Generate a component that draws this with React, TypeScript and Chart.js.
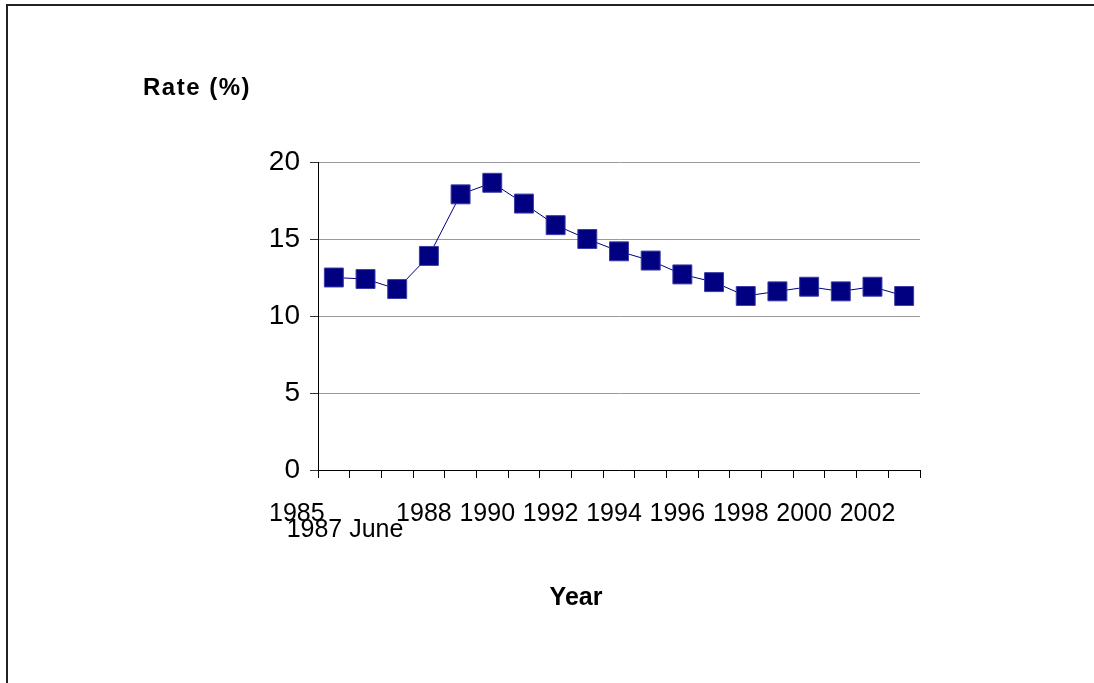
import React, { useEffect, useRef } from "react";
import { Chart, registerables } from "chart.js";

Chart.register(...registerables);

// Categories as labelled on the axis ("" = category without a visible label)
const xLabels: string[] = [
  "1985", "1987 June", "", "1988", "", "1990", "", "1992", "", "1994",
  "", "1996", "", "1998", "", "2000", "", "2002", "",
];
const rateValues: number[] = [
  12.5, 12.4, 11.75, 13.9, 17.9, 18.65, 17.3, 15.9, 15.0, 14.2,
  13.6, 12.7, 12.2, 11.3, 11.6, 11.9, 11.6, 11.9, 11.3,
];
const yTicks: number[] = [0, 5, 10, 15, 20];
const yTitle = "Rate (%)";
const xTitle = "Year";

const FONT = '"Liberation Sans", Arial, sans-serif';

const decorPlugin = {
  id: "decor",
  beforeDraw(chart: any) {
    const ctx = chart.ctx;
    ctx.save();
    ctx.fillStyle = "#ffffff";
    ctx.fillRect(0, 0, chart.width, chart.height);
    ctx.fillStyle = "#222222";
    ctx.fillRect(6, 4, chart.width, 2);
    ctx.fillRect(6, 4, 2, chart.height);
    ctx.restore();
  },
  afterDraw(chart: any) {
    const ctx = chart.ctx;
    const xs = chart.scales.x;
    const bottom = chart.chartArea.bottom;
    ctx.save();
    ctx.fillStyle = "#000000";
    ctx.textBaseline = "alphabetic";
    // x tick labels
    ctx.font = `25px ${FONT}`;
    ctx.textAlign = "center";
    xLabels.forEach((lab, i) => {
      if (!lab) return;
      let dx = -5;
      let dy = 51;
      if (i === 0) dx = -37;
      if (i === 1) {
        dx = -20.5;
        dy = 67;
      }
      ctx.fillText(lab, xs.getPixelForValue(i) + dx, bottom + dy);
    });
    // axis titles
    ctx.font = `bold 25px ${FONT}`;
    ctx.fillText(xTitle, 576, 605);
    ctx.font = `bold 24px ${FONT}`;
    try {
      (ctx as any).letterSpacing = "1.5px";
    } catch (e) {}
    ctx.textAlign = "left";
    ctx.fillText(yTitle, 143, 95);
    ctx.restore();
  },
};

export default function App() {
  const ref = useRef<HTMLCanvasElement | null>(null);
  useEffect(() => {
    if (!ref.current) return;
    const chart = new Chart(ref.current, {
      type: "line",
      data: {
        labels: xLabels.map((l, i) => l || `c${i}`),
        datasets: [
          {
            data: rateValues,
            borderColor: "#000080",
            borderWidth: 1,
            backgroundColor: "#000080",
            pointStyle: "rect",
            pointRadius: 13.4,
            pointHoverRadius: 13.4,
            pointBackgroundColor: "#000080",
            pointBorderColor: "#3c3ca8",
            pointBorderWidth: 1,
            tension: 0,
            clip: false as any,
          },
        ],
      },
      options: {
        responsive: false,
        animation: false,
        events: [],
        layout: { padding: { left: 0, top: 162, right: 174, bottom: 0 } },
        plugins: {
          legend: { display: false },
          tooltip: { enabled: false },
          title: { display: false },
        },
        scales: {
          x: {
            type: "category",
            offset: true,
            afterFit: (s: any) => {
              s.height = 213;
            },
            grid: {
              display: true,
              drawOnChartArea: false,
              drawTicks: true,
              tickLength: 8,
              offset: true,
              color: "#000000",
            },
            border: { display: true, color: "#000000", width: 1 },
            ticks: { display: false, autoSkip: false },
          },
          y: {
            min: 0,
            max: 20,
            afterFit: (s: any) => {
              s.width = 318;
            },
            afterBuildTicks: (s: any) => {
              s.ticks = yTicks.map((v) => ({ value: v }));
            },
            grid: {
              color: "#9a9a9a",
              lineWidth: 1,
              tickColor: "#333333",
              tickLength: 8,
              drawTicks: true,
            },
            border: { display: true, color: "#000000", width: 1 },
            ticks: {
              color: "#000000",
              padding: 10,
              font: { family: FONT, size: 28 },
            },
          },
        },
      },
      plugins: [decorPlugin],
    });
    return () => chart.destroy();
  }, []);
  return (
    <div style={{ position: "fixed", left: 0, top: 0, width: 1094, height: 683, background: "#fff" }}>
      <canvas ref={ref} width={1094} height={683} style={{ display: "block" }} />
    </div>
  );
}
